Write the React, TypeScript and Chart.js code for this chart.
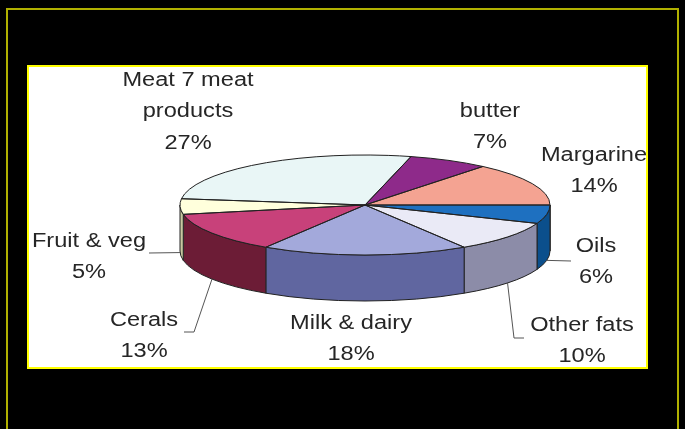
import React, { useEffect, useRef } from "react";
import { Chart, registerables } from "chart.js";

Chart.register(...registerables);

// ---- data ----
const categories = [
  "Meat 7 meat products",
  "butter",
  "Margarine",
  "Oils",
  "Other fats",
  "Milk & dairy",
  "Cerals",
  "Fruit & veg",
];
const labelLines = [
  ["Meat 7 meat", "products"],
  ["butter"],
  ["Margarine"],
  ["Oils"],
  ["Other fats"],
  ["Milk & dairy"],
  ["Cerals"],
  ["Fruit & veg"],
];
const values = [27, 7, 14, 6, 10, 18, 13, 5];

// ---- styles ----
const topColors = [
  "#e9f6f6",
  "#8e2a8a",
  "#f4a392",
  "#1e70c0",
  "#eaeaf6",
  "#a3a9db",
  "#c8417a",
  "#ffffdc",
];
const sideColors = [
  "#b8c4c4",
  "#5a1a58",
  "#b87060",
  "#0b4f8c",
  "#8c8ca8",
  "#6066a0",
  "#6c1c36",
  "#c8c8a0",
];

// label layout: first line center, optional leader elbows
const labelLayout = [
  { x: 188, y: 80, leader: null },
  { x: 490, y: 111, leader: null },
  { x: 594, y: 155, leader: null },
  { x: 596, y: 246, leader: [[571, 261]] },
  { x: 582, y: 325, leader: [[514, 338], [524, 338]] },
  { x: 351, y: 323, leader: null },
  { x: 144, y: 320, leader: [[194, 332], [184, 332]] },
  { x: 89, y: 241, leader: [[149, 253]] },
];

const W = 685;
const H = 429;
const FLAT = 50 / 185;
const DEPTH = 46;
const LINE_H = 31.5;
const TEXT_SX = 1.18;

const pie3d = {
  id: "pie3d",
  beforeDraw(chart: any) {
    const ctx = chart.ctx;
    ctx.save();
    ctx.fillStyle = "#000";
    ctx.fillRect(0, 0, W, H);
    ctx.strokeStyle = "#b0b000";
    ctx.lineWidth = 2;
    ctx.strokeRect(7, 9, 671, 440);
    ctx.fillStyle = "#fff";
    ctx.fillRect(28, 66, 619, 302);
    ctx.strokeStyle = "#ffff00";
    ctx.lineWidth = 2;
    ctx.strokeRect(28, 66, 619, 302);
    ctx.restore();
  },
  beforeDatasetsDraw(chart: any) {
    const ctx = chart.ctx;
    const arcs = chart.getDatasetMeta(0).data;
    const cx = arcs[0].x;
    const cy = arcs[0].y;
    const r = arcs[0].outerRadius;
    const ry = r * FLAT;
    ctx.save();
    ctx.lineWidth = 1;
    ctx.strokeStyle = "#222";
    arcs.forEach((arc: any, i: number) => {
      const a1 = arc.startAngle;
      const a2 = arc.endAngle;
      for (let n = -2; n <= 2; n++) {
        const lo = n * 2 * Math.PI;
        const hi = lo + Math.PI;
        const s = Math.max(a1, lo);
        const e = Math.min(a2, hi);
        if (e > s) {
          ctx.beginPath();
          ctx.ellipse(cx, cy, r, ry, 0, s, e);
          ctx.ellipse(cx, cy + DEPTH, r, ry, 0, e, s, true);
          ctx.closePath();
          ctx.fillStyle = sideColors[i];
          ctx.fill();
          ctx.stroke();
        }
      }
    });
    ctx.restore();
    ctx.save();
    ctx.translate(cx, cy);
    ctx.scale(1, FLAT);
    ctx.translate(-cx, -cy);
  },
  afterDatasetsDraw(chart: any) {
    const ctx = chart.ctx;
    ctx.restore();
    const arcs = chart.getDatasetMeta(0).data;
    const cx = arcs[0].x;
    const cy = arcs[0].y;
    const r = arcs[0].outerRadius;
    const ry = r * FLAT;
    ctx.save();
    ctx.lineWidth = 1;
    ctx.strokeStyle = "#222";
    arcs.forEach((arc: any) => {
      ctx.beginPath();
      ctx.moveTo(cx, cy);
      ctx.ellipse(cx, cy, r, ry, 0, arc.startAngle, arc.endAngle);
      ctx.closePath();
      ctx.stroke();
    });

    // leaders
    ctx.strokeStyle = "#555";
    arcs.forEach((arc: any, i: number) => {
      const lay = labelLayout[i];
      if (!lay.leader) return;
      const mid = (arc.startAngle + arc.endAngle) / 2;
      const sx = cx + r * Math.cos(mid);
      const sy = cy + DEPTH + ry * Math.sin(mid);
      ctx.beginPath();
      ctx.moveTo(sx, sy);
      lay.leader.forEach((p: number[]) => ctx.lineTo(p[0], p[1]));
      ctx.stroke();
    });

    // labels
    ctx.fillStyle = "#262626";
    ctx.font = '20px "Liberation Sans", Arial, sans-serif';
    ctx.textAlign = "center";
    ctx.textBaseline = "middle";
    const drawText = (s: string, x: number, y: number) => {
      ctx.save();
      ctx.translate(x, y);
      ctx.scale(TEXT_SX, 1);
      ctx.fillText(s, 0, 0);
      ctx.restore();
    };
    labelLines.forEach((lines, i) => {
      const lay = labelLayout[i];
      const all = [...lines, `${values[i]}%`];
      all.forEach((s, j) => drawText(s, lay.x, lay.y + j * LINE_H));
    });
    ctx.restore();
  },
};

export default function App() {
  const ref = useRef<HTMLCanvasElement>(null);
  useEffect(() => {
    if (!ref.current) return;
    const chart = new Chart(ref.current, {
      type: "pie",
      data: {
        labels: categories,
        datasets: [
          {
            data: values,
            backgroundColor: topColors,
            borderWidth: 0,
          },
        ],
      },
      options: {
        responsive: false,
        animation: false,
        devicePixelRatio: 1,
        events: [],
        rotation: -82.8,
        layout: { padding: { left: 180, right: 135, top: 20, bottom: 39 } },
        plugins: {
          legend: { display: false },
          tooltip: { enabled: false },
          title: { display: false },
        },
      },
      plugins: [pie3d],
    });
    return () => chart.destroy();
  }, []);
  return (
    <canvas
      ref={ref}
      width={W}
      height={H}
      style={{ position: "fixed", left: 0, top: 0, display: "block", width: W, height: H }}
    />
  );
}
